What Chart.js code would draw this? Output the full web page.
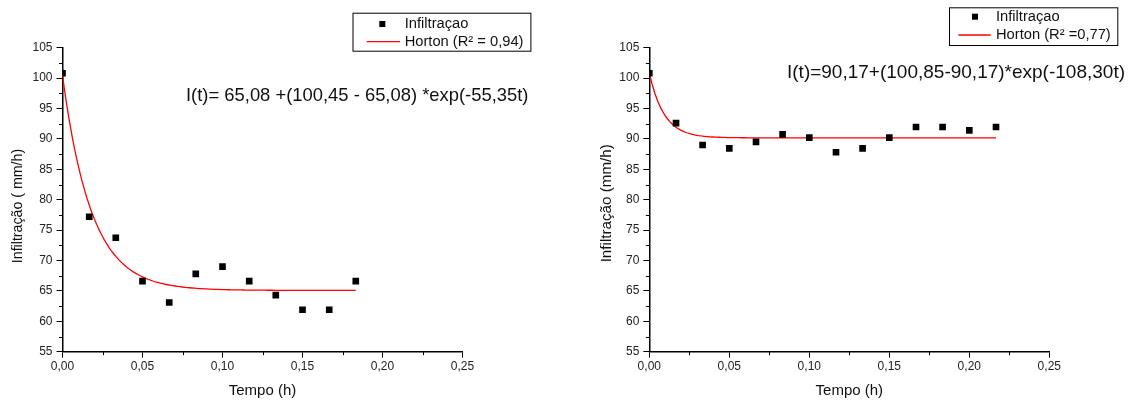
<!DOCTYPE html>
<html>
<head>
<meta charset="utf-8">
<script src="https://cdn.jsdelivr.net/npm/chart.js@4.4.1/dist/chart.umd.min.js"></script>
<style>
  html, body { margin: 0; padding: 0; background: #fff; }
  #wrap { position: relative; width: 1134px; height: 401px; overflow: hidden; }
  canvas { position: absolute; top: 0; }
</style>
</head>
<body>
<div id="wrap">
  <canvas id="left" width="567" height="401" style="left:0"></canvas>
  <canvas id="right" width="567" height="401" style="left:567px"></canvas>
</div>
<script>
// Measured infiltration, first test (time in hours, rate in mm/h)
const tempoA = [0, 0.0167, 0.0333, 0.05, 0.0667, 0.0833, 0.1, 0.1167, 0.1333, 0.15, 0.1667, 0.1833];
const infiltA = [100.8, 77.2, 73.75, 66.6, 63.1, 67.8, 69.0, 66.6, 64.3, 61.9, 61.9, 66.6];
// Horton fit, first test: [fc, f0, k]
const hortonA = [65.08, 100.45, 55.35];

// Measured infiltration, second test
const tempoB = [0, 0.0167, 0.0333, 0.05, 0.0667, 0.0833, 0.1, 0.1167, 0.1333, 0.15, 0.1667, 0.1833, 0.2, 0.2167];
const infiltB = [100.8, 92.6, 89.0, 88.45, 89.5, 90.75, 90.2, 87.8, 88.45, 90.2, 91.95, 91.95, 91.4, 91.95];
// Horton fit, second test: [fc, f0, k]
const hortonB = [90.17, 100.85, 108.30];

// Axis ticks
const xTicks = [0, 0.05, 0.10, 0.15, 0.20, 0.25];
const yTicks = [55, 60, 65, 70, 75, 80, 85, 90, 95, 100, 105];

const seriesNames = ['Infiltraçao'];
const hortonNames = ['Horton (R² = 0,94)', 'Horton (R² =0,77)'];
const equations = [
  'I(t)= 65,08 +(100,45 - 65,08) *exp(-55,35t)',
  'I(t)=90,17+(100,85-90,17)*exp(-108,30t)'
];
const yTitles = ['Infiltração ( mm/h)', 'Infiltração (mm/h)'];
const xTitle = 'Tempo (h)';

const FONT = 'Arial, "Liberation Sans", Helvetica, sans-serif';

// Horton curve I(t) = fc + (f0 - fc) * exp(-k t), sampled over the measured time span
function hortonCurve(p, tEnd) {
  const [fc, f0, k] = p;
  const pts = [];
  const n = 120;
  for (let i = 0; i <= n; i++) {
    const t = tEnd * i / n;
    pts.push({ x: t, y: fc + (f0 - fc) * Math.exp(-k * t) });
  }
  return pts;
}

const fmt = v => v.toFixed(2).replace('.', ',');

// Minor ticks, axis titles, equation text and the framed legend
const decor = {
  id: 'decor',
  afterDraw(chart, args, o) {
    const ctx = chart.ctx;
    const xs = chart.scales.x, ys = chart.scales.y;
    const area = chart.chartArea;
    ctx.save();
    // minor ticks
    ctx.strokeStyle = '#000';
    ctx.lineWidth = 1;
    ctx.beginPath();
    for (let i = 0; i < xTicks.length - 1; i++) {
      const px = Math.round(xs.getPixelForValue((xTicks[i] + xTicks[i + 1]) / 2)) + 0.5;
      ctx.moveTo(px, area.bottom);
      ctx.lineTo(px, area.bottom + 3.5);
    }
    for (let i = 0; i < yTicks.length - 1; i++) {
      const py = Math.round(ys.getPixelForValue((yTicks[i] + yTicks[i + 1]) / 2)) + 0.5;
      ctx.moveTo(area.left, py);
      ctx.lineTo(area.left - 3.5, py);
    }
    ctx.stroke();

    ctx.fillStyle = '#111';
    // x title
    ctx.font = '15px ' + FONT;
    ctx.textAlign = 'center';
    ctx.textBaseline = 'alphabetic';
    ctx.fillText(xTitle, (area.left + area.right) / 2, 395);
    // y title
    ctx.save();
    ctx.translate(o.yTitleX, o.yTitleY);
    ctx.rotate(-Math.PI / 2);
    ctx.font = o.yTitleSize + 'px ' + FONT;
    ctx.textBaseline = 'middle';
    ctx.fillText(o.yTitle, 0, 0);
    ctx.restore();

    // equation
    ctx.font = o.eqSize + 'px ' + FONT;
    ctx.textAlign = 'left';
    ctx.textBaseline = 'alphabetic';
    ctx.fillText(o.eq, o.eqX, o.eqY);

    // legend
    const L = o.legend;
    ctx.lineWidth = 1;
    ctx.strokeStyle = '#000';
    ctx.strokeRect(L.x0 + 0.5, L.y0 + 0.5, L.x1 - L.x0, L.y1 - L.y0);
    const ds = chart.data.datasets;
    ctx.fillStyle = '#000';
    const s = 6;
    ctx.fillRect(L.mark - s / 2, L.row1 - s / 2, s, s);
    ctx.strokeStyle = ds[1].borderColor;
    ctx.lineWidth = 1.3;
    ctx.beginPath();
    ctx.moveTo(L.lineA, L.row2);
    ctx.lineTo(L.lineB, L.row2);
    ctx.stroke();
    ctx.fillStyle = '#111';
    ctx.font = '14.7px ' + FONT;
    ctx.textBaseline = 'middle';
    ctx.fillText(ds[0].label, L.text, L.row1);
    ctx.fillText(ds[1].label, L.text, L.row2);
    ctx.restore();
  }
};

function panel(id, tempo, infilt, params, opts) {
  const tEnd = tempo[tempo.length - 1];
  return new Chart(document.getElementById(id), {
    type: 'scatter',
    data: {
      datasets: [
        {
          label: seriesNames[0],
          data: tempo.map((t, i) => ({ x: t, y: infilt[i] })),
          pointStyle: 'rect',
          pointRadius: 4.7,
          pointHoverRadius: 4.7,
          backgroundColor: '#000',
          borderWidth: 0,
          order: 1
        },
        {
          type: 'line',
          label: opts.hortonName,
          data: hortonCurve(params, tEnd),
          borderColor: '#ff0000',
          borderWidth: 1.3,
          pointRadius: 0,
          fill: false,
          tension: 0,
          order: 2
        }
      ]
    },
    options: {
      responsive: false,
      animation: false,
      events: [],
      layout: { padding: { left: 0, top: 47.7, right: opts.padRight, bottom: 0 } },
      plugins: {
        legend: { display: false },
        tooltip: { enabled: false },
        decor: opts.decor
      },
      scales: {
        x: {
          type: 'linear',
          min: 0, max: 0.25,
          afterBuildTicks: s => { s.ticks = xTicks.map(v => ({ value: v })); },
          afterFit: s => { s.height = 49.3; },
          ticks: {
            callback: v => fmt(v),
            color: '#222',
            font: { family: FONT, size: 12 },
            padding: 2,
            maxRotation: 0,
            autoSkip: false
          },
          grid: { drawOnChartArea: false, drawTicks: true, tickLength: 6, color: '#000', lineWidth: 1 },
          border: { display: true, color: '#000', width: 1.5 }
        },
        y: {
          type: 'linear',
          min: 55, max: 105,
          afterBuildTicks: s => { s.ticks = yTicks.map(v => ({ value: v })); },
          afterFit: s => { s.width = opts.yWidth; },
          ticks: {
            color: '#222',
            font: { family: FONT, size: 12 },
            padding: 4,
            autoSkip: false
          },
          grid: { drawOnChartArea: false, drawTicks: true, tickLength: 6, color: '#000', lineWidth: 1 },
          border: { display: true, color: '#000', width: 1.5 }
        }
      }
    },
    plugins: [decor]
  });
}

panel('left', tempoA, infiltA, hortonA, {
  hortonName: hortonNames[0],
  yWidth: 62.5,
  padRight: 104.5,
  decor: {
    yTitle: yTitles[0], yTitleX: 18, yTitleY: 206, yTitleSize: 14.2,
    eq: equations[0], eqX: 186, eqY: 100.7, eqSize: 18.4,
    legend: { x0: 352.5, y0: 12.7, x1: 530.4, y1: 50.7, row1: 24, row2: 41.7,
              mark: 382.3, lineA: 366.7, lineB: 400, text: 404.7 }
  }
});

panel('right', tempoB, infiltB, hortonB, {
  hortonName: hortonNames[1],
  yWidth: 82.3,
  padRight: 84.7,
  decor: {
    yTitle: yTitles[1], yTitleX: 40, yTitleY: 203.3, yTitleSize: 15.2,
    eq: equations[1], eqX: 220, eqY: 78, eqSize: 19,
    legend: { x0: 382, y0: 7.3, x1: 550.3, y1: 45, row1: 16.7, row2: 35,
              mark: 408, lineA: 391.3, lineB: 423.7, text: 429 }
  }
});
</script>
</body>
</html>
